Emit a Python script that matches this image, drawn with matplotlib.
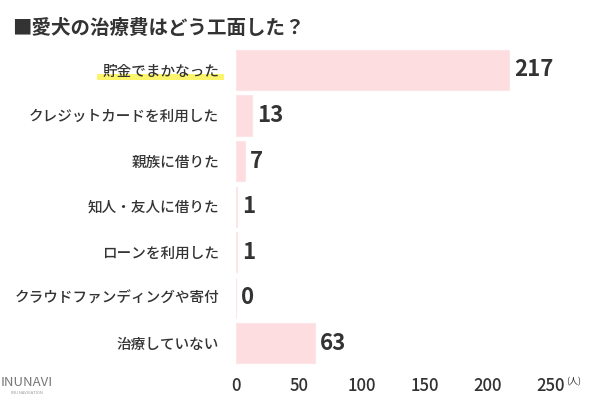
import matplotlib.pyplot as plt
from matplotlib.patches import Rectangle

plt.rcParams['font.family'] = ['Noto Sans CJK JP', 'DejaVu Sans']

# データ
categories = ['貯金でまかなった', 'クレジットカードを利用した', '親族に借りた',
              '知人・友人に借りた', 'ローンを利用した', 'クラウドファンディングや寄付',
              '治療していない']
values = [217, 13, 7, 1, 1, 0, 63]
xticks = [0, 50, 100, 150, 200, 250]

text_color = '#333333'
bar_color = '#fddde0'

fig = plt.figure(figsize=(6, 4), dpi=100)
ax = fig.add_axes([0.393, 0.085, 0.525, 0.797])

ypos = list(range(len(categories)))
ax.barh(ypos, values, height=0.88, color=bar_color, edgecolor='#fde4e6', linewidth=0.8)
ax.set_ylim(len(categories) - 0.5, -0.5)
ax.set_xlim(0, 250)

for y, v in zip(ypos, values):
    ax.text(v + 4, y, str(v), va='center', ha='left', fontsize=16,
            fontweight='bold', color=text_color)

ax.set_yticks(ypos)
ax.set_yticklabels(categories, fontsize=10.5, color=text_color, fontweight='medium')
ax.set_xticks(xticks)
ax.set_xticklabels([str(t) for t in xticks], fontsize=12, color=text_color,
                   fontweight='medium')
ax.tick_params(axis='both', length=0)
ax.tick_params(axis='y', pad=12)
ax.tick_params(axis='x', pad=8)
for s in ax.spines.values():
    s.set_visible(False)

# (人)
ax.text(1.072, -0.05, '(人)', transform=ax.transAxes, fontsize=6.5,
        color=text_color, ha='center', va='center')

# タイトル
fig.text(0.02, 0.93, '■愛犬の治療費はどう工面した？', fontsize=14,
         fontweight='bold', color=text_color, ha='left', va='center')

# 強調マーカー
fig.canvas.draw()
lbl = ax.get_yticklabels()[0]
bb = lbl.get_window_extent().transformed(fig.transFigure.inverted())
fig.add_artist(Rectangle((bb.x0 - 0.008, bb.y0 - 0.005), bb.width + 0.016,
                         bb.height * 0.45, transform=fig.transFigure,
                         color='#fbf23a', alpha=0.75, zorder=0, lw=0))

# ロゴ
fig.text(0.045, 0.045, 'INUNAVI', fontsize=9.5, color='#777777', ha='center', va='center')
fig.text(0.045, 0.018, 'INU NAVIGATION', fontsize=3, color='#999999', ha='center', va='center')

fig.savefig('out.png', dpi=100, facecolor='white')
